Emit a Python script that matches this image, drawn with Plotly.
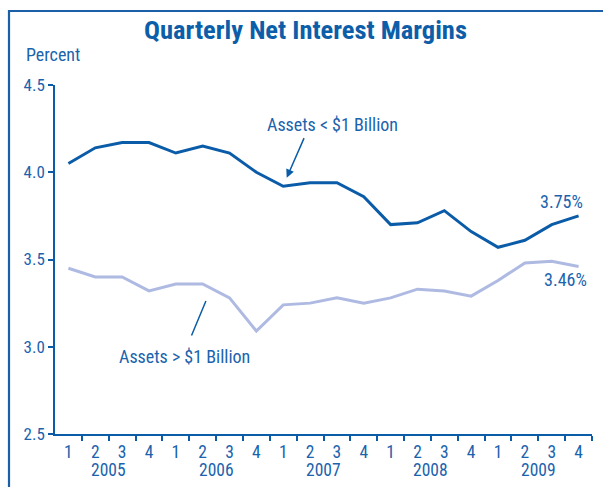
import plotly.graph_objects as go

quarters = ["1", "2", "3", "4"] * 5
years = ["2005", "2006", "2007", "2008", "2009"]
small_banks = [4.05, 4.14, 4.17, 4.17, 4.11, 4.15, 4.11, 4.00, 3.92, 3.94,
               3.94, 3.86, 3.70, 3.71, 3.78, 3.66, 3.57, 3.61, 3.70, 3.75]
large_banks = [3.45, 3.40, 3.40, 3.32, 3.36, 3.36, 3.28, 3.09, 3.24, 3.25,
               3.28, 3.25, 3.28, 3.33, 3.32, 3.29, 3.38, 3.48, 3.49, 3.46]
y_ticks = [2.5, 3.0, 3.5, 4.0, 4.5]

DARK = "#0b5ca8"
LIGHT = "#aebae2"
TXT = "#1b63ad"
FONT = "Roboto Condensed, Roboto, Arial, sans-serif"

xs = list(range(len(quarters)))

fig = go.Figure()
fig.add_trace(go.Scatter(x=xs, y=large_banks, mode="lines",
                         line=dict(color=LIGHT, width=3), hoverinfo="skip"))
fig.add_trace(go.Scatter(x=xs, y=small_banks, mode="lines",
                         line=dict(color=DARK, width=3), hoverinfo="skip"))

ann = []
for i, yr in enumerate(years):
    ann.append(dict(x=i * 4 + 1.5, y=(434 - 470) / 349, xref="x", yref="paper",
                    yanchor="middle", text=yr, showarrow=False,
                    font=dict(size=17.5, color=TXT, family=FONT)))
ann += [
    dict(x=9.85, y=4.276, text="Assets < $1 Billion", showarrow=False,
         font=dict(size=18, color=TXT, family=FONT)),
    dict(x=8.13, y=3.969, ax=18, ay=-41, text="", showarrow=True, arrowhead=2,
         arrowsize=1.1, arrowwidth=1.5, arrowcolor=DARK),
    dict(x=4.34, y=2.947, text="Assets > $1 Billion", showarrow=False,
         font=dict(size=18, color=TXT, family=FONT)),
    dict(x=5.12, y=3.262, ax=-15, ay=36, text="", showarrow=True, arrowhead=0,
         arrowwidth=1.5, arrowcolor=DARK),
    dict(x=18.38, y=3.83, text="3.75%", showarrow=False,
         font=dict(size=18, color=TXT, family=FONT)),
    dict(x=18.53, y=3.383, text="3.46%", showarrow=False,
         font=dict(size=18, color=TXT, family=FONT)),
    dict(x=(24 - 55) / 537, y=(434 - 55) / 349, xref="paper", yref="paper",
         text="Percent", showarrow=False, xanchor="left", yanchor="middle",
         font=dict(size=18, color=TXT, family=FONT)),
]

fig.update_layout(
    width=603, height=487,
    margin=dict(l=55, r=11, t=85, b=53),
    paper_bgcolor="white", plot_bgcolor="white",
    showlegend=False,
    title=dict(text="<b>Quarterly Net Interest Margins</b>", x=305.5 / 603,
               xanchor="center", y=1 - 30 / 487, yanchor="middle",
               font=dict(size=26.5, color="#0d5ea9", family=FONT)),
    annotations=ann,
    shapes=[dict(type="rect", xref="paper", yref="paper",
                 x0=(9 - 55) / 537, x1=1.3, y0=-0.4, y1=(434 - 11) / 349,
                 line=dict(color="#1a5fa8", width=2.2), layer="below")],
)
fig.update_xaxes(range=[-0.5, 19.5], tickvals=xs, ticktext=quarters,
                 ticks="", ticklabelstandoff=1, showgrid=False, zeroline=False,
                 showline=True, linecolor=DARK, linewidth=1.5,
                 tickfont=dict(size=17.5, color=TXT, family=FONT),
                 minor=dict(tickmode="array",
                            tickvals=[v + 0.5 for v in xs],
                            ticks="outside", ticklen=5, tickwidth=1.5,
                            tickcolor=DARK, showgrid=False),
                 fixedrange=True)
fig.update_yaxes(range=[2.5, 4.5], tickvals=y_ticks,
                 ticktext=[f"{v:.1f}" for v in y_ticks],
                 ticks="outside", ticklen=5, tickwidth=1.5, tickcolor=DARK,
                 showgrid=False, zeroline=False, showline=True,
                 linecolor=DARK, linewidth=1.5,
                 tickfont=dict(size=17, color=TXT, family=FONT),
                 fixedrange=True)

fig.write_html("out.html", config=dict(displayModeBar=False),
               post_script="document.body.style.margin='0';")
